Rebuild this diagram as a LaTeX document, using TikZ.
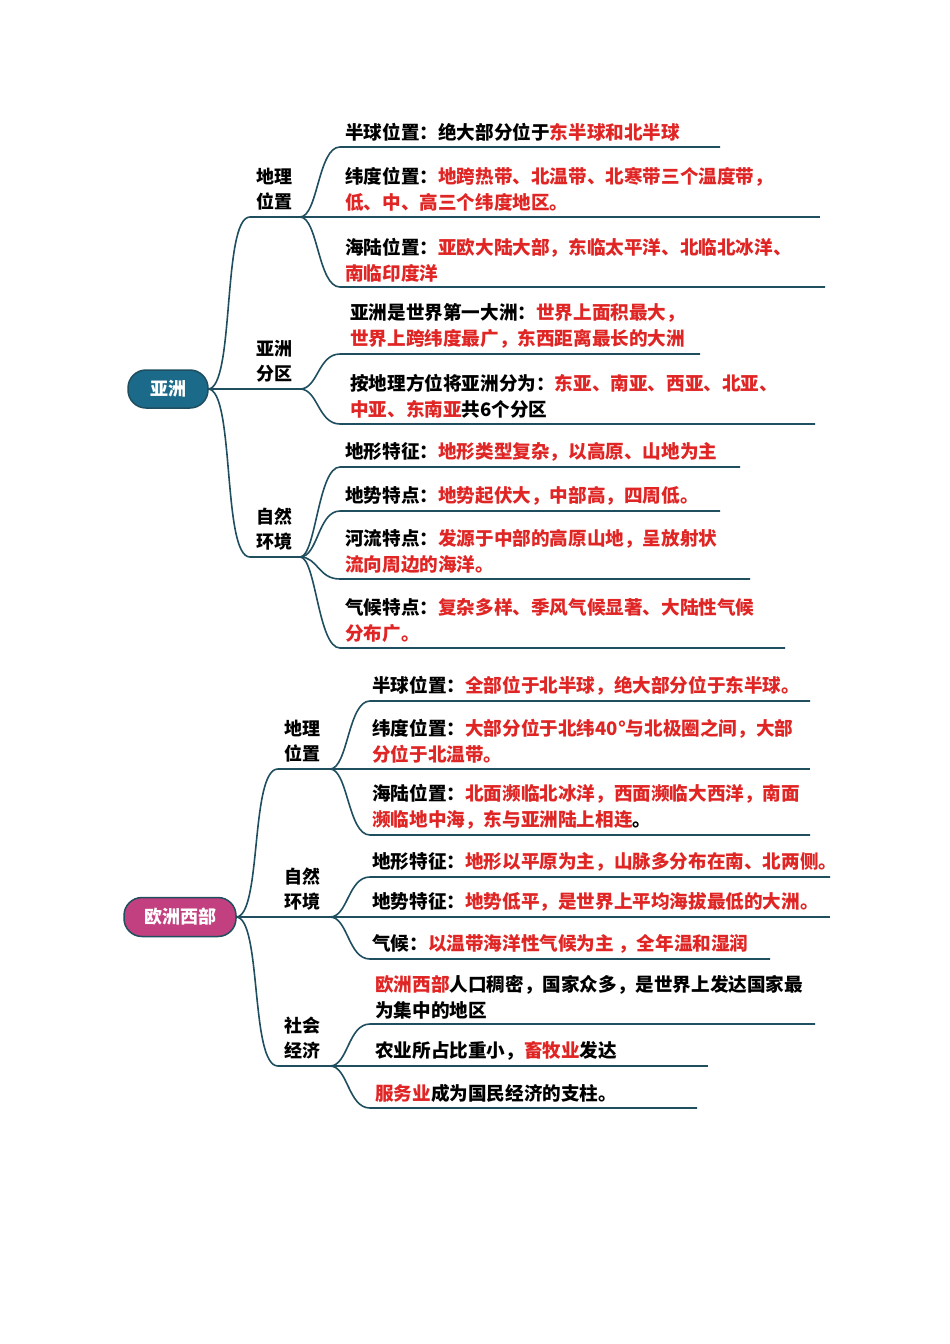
\documentclass[tikz,border=0pt]{standalone}
\usepackage{fontspec}
\setmainfont{Noto Sans CJK SC}
\begin{document}
\begin{tikzpicture}[x=1pt,y=-1pt,
  ln/.style={draw=lc,line width=1.6pt},
  leaf/.style={anchor=south west,inner sep=4pt,align=left,font=\fontsize{18.6}{26}\selectfont\bfseries},
  lab/.style={anchor=south,inner sep=4pt,align=center,font=\fontsize{18}{25}\selectfont\bfseries},
  root/.style={rounded corners=18pt,draw=lc,line width=1.5pt,text=white,font=\fontsize{18}{20}\selectfont\bfseries,inner sep=0pt}]
\definecolor{lc}{HTML}{1F4E5F}
\definecolor{rd}{HTML}{E02525}
\definecolor{asia}{HTML}{1B6A8A}
\definecolor{eu}{HTML}{C2407F}
\newcommand\hl[1]{\textcolor{rd}{#1}}
\useasboundingbox (0,0) rectangle (950,1344);
% ---------- Asia ----------
\node[root,fill=asia,minimum width=80pt,minimum height=38pt] (A) at (168,389) {亚洲};
\coordinate (Ar) at (208,389);
% level 1
\draw[ln] (Ar) .. controls (235,389) and (222,217) .. (250,217) -- (300,217) coordinate (A1);
\draw[ln] (Ar) -- (300,389) coordinate (A2);
\draw[ln] (Ar) .. controls (235,389) and (222,557) .. (250,557) -- (300,557) coordinate (A3);
\node[lab] (A1l) at (274,214) {地理\\位置};
\node[lab] (A2l) at (274,386) {亚洲\\分区};
\node[lab] (A3l) at (274,554) {自然\\环境};
% group 1
\draw[ln] (A1) .. controls (318,217) and (318,147) .. (340,147) -- (720,147);
\draw[ln] (A1) -- (820,217);
\draw[ln] (A1) .. controls (318,217) and (318,287) .. (340,287) -- (825,287);
\node[leaf] (a11) at (341,146) {半球位置：绝大部分位于\hl{东半球和北半球}};
\node[leaf] (a12) at (341,216) {纬度位置：\hl{地跨热带、北温带、北寒带三个温度带，}\\\hl{低、中、高三个纬度地区。}};
\node[leaf] (a13) at (341,286) {海陆位置：\hl{亚欧大陆大部，东临太平洋、北临北冰洋、}\\\hl{南临印度洋}};
% group 2
\draw[ln] (A2) .. controls (318,389) and (318,354) .. (340,354) -- (700,354);
\draw[ln] (A2) .. controls (318,389) and (318,424) .. (340,424) -- (815,424);
\node[leaf] (a21) at (346,353) {亚洲是世界第一大洲：\hl{世界上面积最大，}\\\hl{世界上跨纬度最广，东西距离最长的大洲}};
\node[leaf] (a22) at (346,423) {按地理方位将亚洲分为：\hl{东亚、南亚、西亚、北亚、}\\\hl{中亚、东南亚}共6个分区};
% group 3
\draw[ln] (A3) .. controls (316,557) and (318,467) .. (340,467) -- (740,467);
\draw[ln] (A3) .. controls (318,557) and (318,511) .. (340,511) -- (720,511);
\draw[ln] (A3) .. controls (318,557) and (318,579) .. (340,579) -- (750,579);
\draw[ln] (A3) .. controls (316,557) and (318,648) .. (340,648) -- (785,648);
\node[leaf] (a31) at (341,466) {地形特征：\hl{地形类型复杂，以高原、山地为主}};
\node[leaf] (a32) at (341,510) {地势特点：\hl{地势起伏大，中部高，四周低。}};
\node[leaf] (a33) at (341,578) {河流特点：\hl{发源于中部的高原山地，呈放射状}\\\hl{流向周边的海洋。}};
\node[leaf] (a34) at (341,647) {气候特点：\hl{复杂多样、季风气候显著、大陆性气候}\\\hl{分布广。}};
% ---------- Europe ----------
\node[root,fill=eu,minimum width=112pt,minimum height=39pt] (E) at (180,917) {欧洲西部};
\coordinate (Er) at (236,917);
\draw[ln] (Er) .. controls (262,917) and (250,769) .. (278,769) -- (330,769) coordinate (E1);
\draw[ln] (Er) -- (330,917) coordinate (E2);
\draw[ln] (Er) .. controls (262,917) and (250,1066) .. (278,1066) -- (330,1066) coordinate (E3);
\node[lab] (E1l) at (302,766) {地理\\位置};
\node[lab] (E2l) at (302,914) {自然\\环境};
\node[lab] (E3l) at (302,1063) {社会\\经济};
% group 1
\draw[ln] (E1) .. controls (348,769) and (348,701) .. (370,701) -- (810,701);
\draw[ln] (E1) -- (810,769);
\draw[ln] (E1) .. controls (348,769) and (348,835) .. (370,835) -- (810,835);
\node[leaf] (e11) at (368,700) {半球位置：\hl{全部位于北半球，绝大部分位于东半球。}};
\node[leaf] (e12) at (368,768) {纬度位置：\hl{大部分位于北纬40°与北极圈之间，大部}\\\hl{分位于北温带。}};
\node[leaf] (e13) at (368,834) {海陆位置：\hl{北面濒临北冰洋，西面濒临大西洋，南面}\\\hl{濒临地中海，东与亚洲陆上相连}。};
% group 2
\draw[ln] (E2) .. controls (348,917) and (348,877) .. (370,877) -- (830,877);
\draw[ln] (E2) -- (830,917);
\draw[ln] (E2) .. controls (348,917) and (348,959) .. (370,959) -- (770,959);
\node[leaf] (e21) at (368,876) {地形特征：\hl{地形以平原为主，山脉多分布在南、北两侧。}};
\node[leaf] (e22) at (368,916) {地势特征：\hl{地势低平，是世界上平均海拔最低的大洲。}};
\node[leaf] (e23) at (368,958) {气候：\hl{以温带海洋性气候为主 ，全年温和湿润}};
% group 3
\draw[ln] (E3) .. controls (348,1066) and (348,1024) .. (370,1024) -- (815,1024);
\draw[ln] (E3) -- (708,1066);
\draw[ln] (E3) .. controls (348,1066) and (348,1108) .. (370,1108) -- (697,1108);
\node[leaf] (e31) at (371,1023) {\hl{欧洲西部}人口稠密，国家众多，是世界上发达国家最\\为集中的地区};
\node[leaf] (e32) at (371,1065) {农业所占比重小，\hl{畜牧业}发达};
\node[leaf] (e33) at (371,1107) {\hl{服务业}成为国民经济的支柱。};
\end{tikzpicture}
\end{document}
